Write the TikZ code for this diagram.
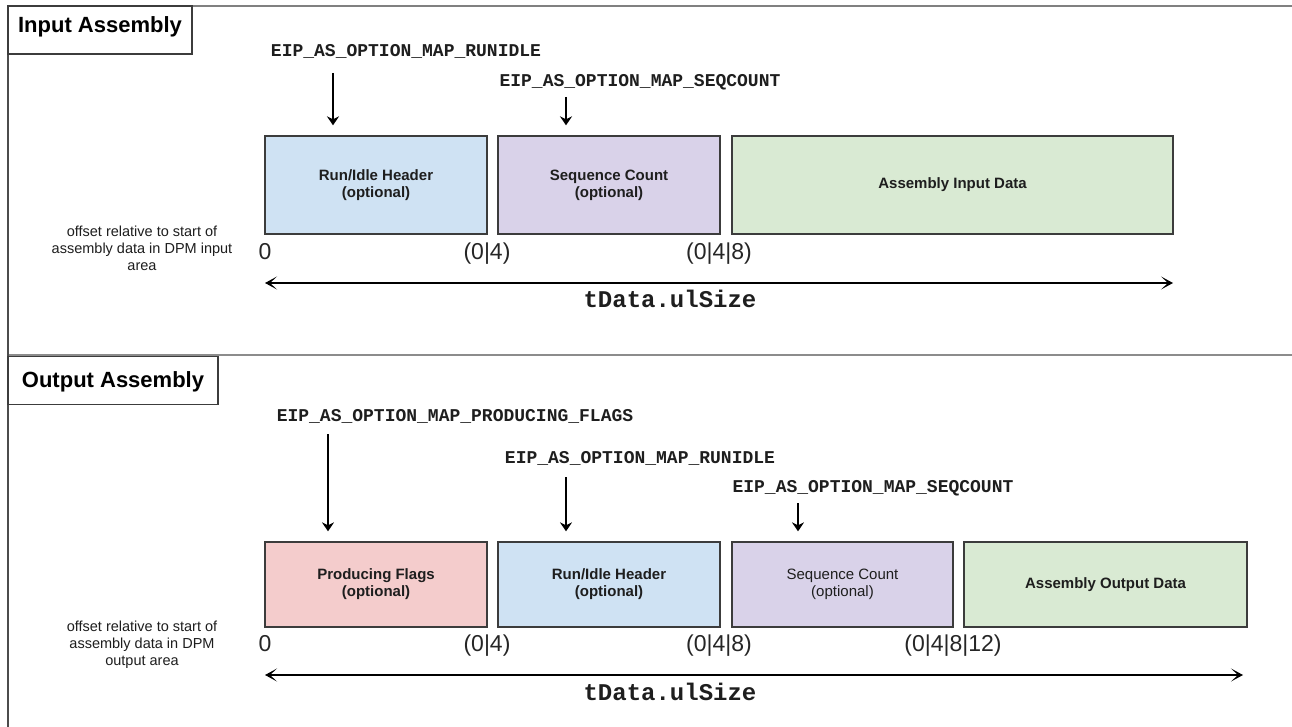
\documentclass[tikz,border=0pt]{standalone}
\usepackage{fontspec}
\setmainfont{Liberation Sans}
\newfontfamily\monof{Liberation Mono}
\usetikzlibrary{arrows.meta}
\definecolor{cblue}{HTML}{CFE2F3}
\definecolor{cpurple}{HTML}{D9D2E9}
\definecolor{cgreen}{HTML}{D9EAD3}
\definecolor{cpink}{HTML}{F4CCCC}
\definecolor{cedge}{HTML}{3C3C3C}
\definecolor{ctext}{HTML}{1E1E1E}
\begin{document}
\begin{tikzpicture}[x=1pt,y=-1pt,
  seg/.style={draw=cedge, line width=1.3pt, inner sep=0pt, align=center,
    text=ctext, font=\fontsize{15}{17}\selectfont\bfseries},
  segA/.style={seg, minimum height=98pt},
  segB/.style={seg, minimum height=85pt},
  titlebox/.style={draw=cedge, line width=1.1pt, inner sep=0pt, fill=white,
    font=\fontsize{22}{24}\selectfont\bfseries},
  macro/.style={anchor=base, inner sep=0pt, font=\fontsize{18}{20}\selectfont\monof\bfseries, text=ctext},
  sizelbl/.style={anchor=base, inner sep=0pt, font=\fontsize{24}{26}\selectfont\monof\bfseries, text=ctext},
  offs/.style={anchor=base, inner sep=0pt, font=\fontsize{23}{25}\selectfont, text=black!85},
  note/.style={align=center, inner sep=0pt, font=\fontsize{14.5}{17}\selectfont, text=ctext},
  ptr/.style={line width=1.7pt, -{Stealth[length=9pt,width=12pt,inset=3pt]}, shorten >=10pt},
  span/.style={line width=2.2pt, {Stealth[length=12pt,width=13pt,inset=7pt]}-{Stealth[length=12pt,width=13pt,inset=7pt]}}
]
\useasboundingbox (0,0) rectangle (1292,727);
\fill[white] (0,0) rectangle (1292,727);

% frame lines
\draw[line width=2pt, black!50] (8,6) -- (1292,6);
\draw[line width=2pt, black!45] (8,355) -- (1292,355);
\draw[line width=1.5pt, black!70] (8,6) -- (8,727);

% ===== Input Assembly =====
\node[titlebox, minimum width=184pt, minimum height=48pt, text height=16pt, text depth=10pt] (tA) at (100,30) {Input Assembly};

\node[segA, fill=cblue, minimum width=222pt] (runA) at (376,185) {Run/Idle Header\\(optional)};
\node[segA, fill=cpurple, minimum width=222pt] (seqA) at (609,185) {Sequence Count\\(optional)};
\node[segA, fill=cgreen, minimum width=441pt] (dataA) at (952.5,185) {Assembly Input Data};

\node[macro] (mA1) at (406,57) {EIP\_AS\_OPTION\_MAP\_RUNIDLE};
\node[macro] (mA2) at (640,87) {EIP\_AS\_OPTION\_MAP\_SEQCOUNT};
\coordinate (pA1) at (333,73);
\coordinate (pA2) at (566,97);
\draw[ptr] (pA1) -- (pA1 |- runA.north);
\draw[ptr] (pA2) -- (pA2 |- seqA.north);

\node[note] (nA) at (142,248.5) {offset relative to start of\\assembly data in DPM input\\area};
\node[offs] (oA0) at (265,259) {0};
\node[offs] (oA1) at (487,259) {(0|4)};
\node[offs] (oA2) at (719,259) {(0|4|8)};

\coordinate (sA0) at (265,283);
\coordinate (sA1) at (1173,283);
\draw[span] (sA0) -- (sA1);
\node[sizelbl] (zA) at (670,307) {tData.ulSize};

% ===== Output Assembly =====
\node[titlebox, minimum width=210pt, minimum height=48pt, text height=20pt, text depth=7pt] (tB) at (113,380.5) {Output Assembly};

\node[segB, fill=cpink, minimum width=222pt] (prodB) at (376,584.5) {Producing Flags\\(optional)};
\node[segB, fill=cblue, minimum width=222pt] (runB) at (609,584.5) {Run/Idle Header\\(optional)};
\node[segB, fill=cpurple, minimum width=221pt, font=\fontsize{15}{17}\selectfont] (seqB) at (842.5,584.5) {Sequence Count\\(optional)};
\node[segB, fill=cgreen, minimum width=283pt] (dataB) at (1105.5,584.5) {Assembly Output Data};

\node[macro] (mB1) at (455,421) {EIP\_AS\_OPTION\_MAP\_PRODUCING\_FLAGS};
\node[macro] (mB2) at (640,463) {EIP\_AS\_OPTION\_MAP\_RUNIDLE};
\node[macro] (mB3) at (873,492) {EIP\_AS\_OPTION\_MAP\_SEQCOUNT};
\coordinate (pB1) at (328,434);
\coordinate (pB2) at (566,477);
\coordinate (pB3) at (798,503);
\draw[ptr] (pB1) -- (pB1 |- prodB.north);
\draw[ptr] (pB2) -- (pB2 |- runB.north);
\draw[ptr] (pB3) -- (pB3 |- seqB.north);

\node[note] (nB) at (142,645) {offset relative to start of\\assembly data in DPM\\output area};
\node[offs] (oB0) at (265,651) {0};
\node[offs] (oB1) at (487,651) {(0|4)};
\node[offs] (oB2) at (719,651) {(0|4|8)};
\node[offs] (oB3) at (953,651) {(0|4|8|12)};

\coordinate (sB0) at (265,675);
\coordinate (sB1) at (1243,675);
\draw[span] (sB0) -- (sB1);
\node[sizelbl] (zB) at (670,700) {tData.ulSize};
\end{tikzpicture}
\end{document}
